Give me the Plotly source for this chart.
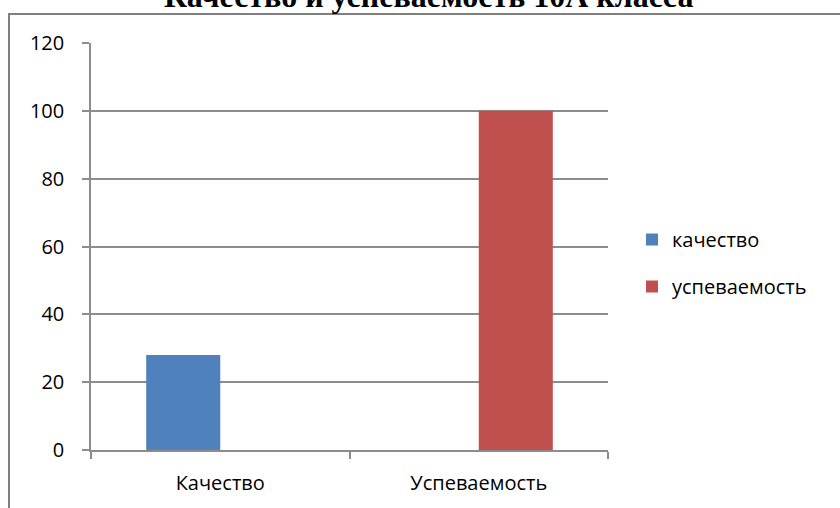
import plotly.graph_objects as go

categories = ["Качество", "Успеваемость"]
series_names = ["качество", "успеваемость"]
quality_values = [28, None]
progress_values = [None, 100]
colors = ["#4F81BD", "#C0504D"]
y_ticks = [0, 20, 40, 60, 80, 100, 120]
title_text = "Качество и успеваемость 10А класса"

W, H = 840, 508
L, R, T, B = 91, 232, 43, 58
pw = W - L - R
ph = H - T - B

fig = go.Figure()
for name, vals, col, grp in zip(series_names, [quality_values, progress_values], colors, ["a", "b"]):
    fig.add_trace(go.Bar(x=categories, y=vals, name=name, marker=dict(color=col, line=dict(width=0)),
                         legendgroup=grp))

font_main = "Open Sans, sans-serif"
grid_col = "#8c8c8c"
top_y = (H - B - 14) / ph
left_x = (9 - L) / pw

fig.update_layout(
    width=W, height=H,
    margin=dict(l=L, r=R, t=T, b=B, pad=0),
    paper_bgcolor="white", plot_bgcolor="white",
    barmode="group", bargap=0.427, bargroupgap=0,
    font=dict(family=font_main, size=20, color="black"),
    showlegend=True,
    legend=dict(x=(632 - L) / pw, xanchor="left", y=(H - B - 263) / ph, yanchor="middle",
                tracegroupgap=18, font=dict(size=20, family=font_main), bgcolor="rgba(0,0,0,0)",
                itemwidth=30),
    xaxis=dict(type="category", showline=True, linecolor=grid_col, linewidth=1.5,
               ticks="outside", tickson="boundaries", ticklen=7, tickcolor=grid_col, tickwidth=1.5,
               showgrid=False, ticklabelstandoff=14, tickfont=dict(size=20)),
    yaxis=dict(range=[0, 120], tickvals=y_ticks, showline=True, linecolor=grid_col, linewidth=1.5,
               ticks="outside", ticklen=7, tickcolor=grid_col, tickwidth=1.5,
               showgrid=True, gridcolor=grid_col, gridwidth=1.5, zeroline=False,
               ticklabelstandoff=14, tickfont=dict(size=20)),
    shapes=[
        dict(type="path", xref="paper", yref="paper",
             path=f"M {left_x} {(H - B - H) / ph} L {left_x} {top_y} L {(W + 5 - L) / pw} {top_y}",
             line=dict(color="#7f7f7f", width=2), layer="above"),
    ],
    annotations=[
        dict(text="<b>" + title_text + "</b>", xref="paper", yref="paper",
             x=(428 - L) / pw, xanchor="center", bgcolor="rgba(0,0,0,0)",
             y=(H - B + 4) / ph, yanchor="middle", showarrow=False,
             font=dict(family="Liberation Serif, Times New Roman, serif", size=32, color="black")),
    ],
)

fig.write_html("out.html", config={"displayModeBar": False},
               post_script="document.body.style.margin='0';document.body.style.overflow='hidden';")
